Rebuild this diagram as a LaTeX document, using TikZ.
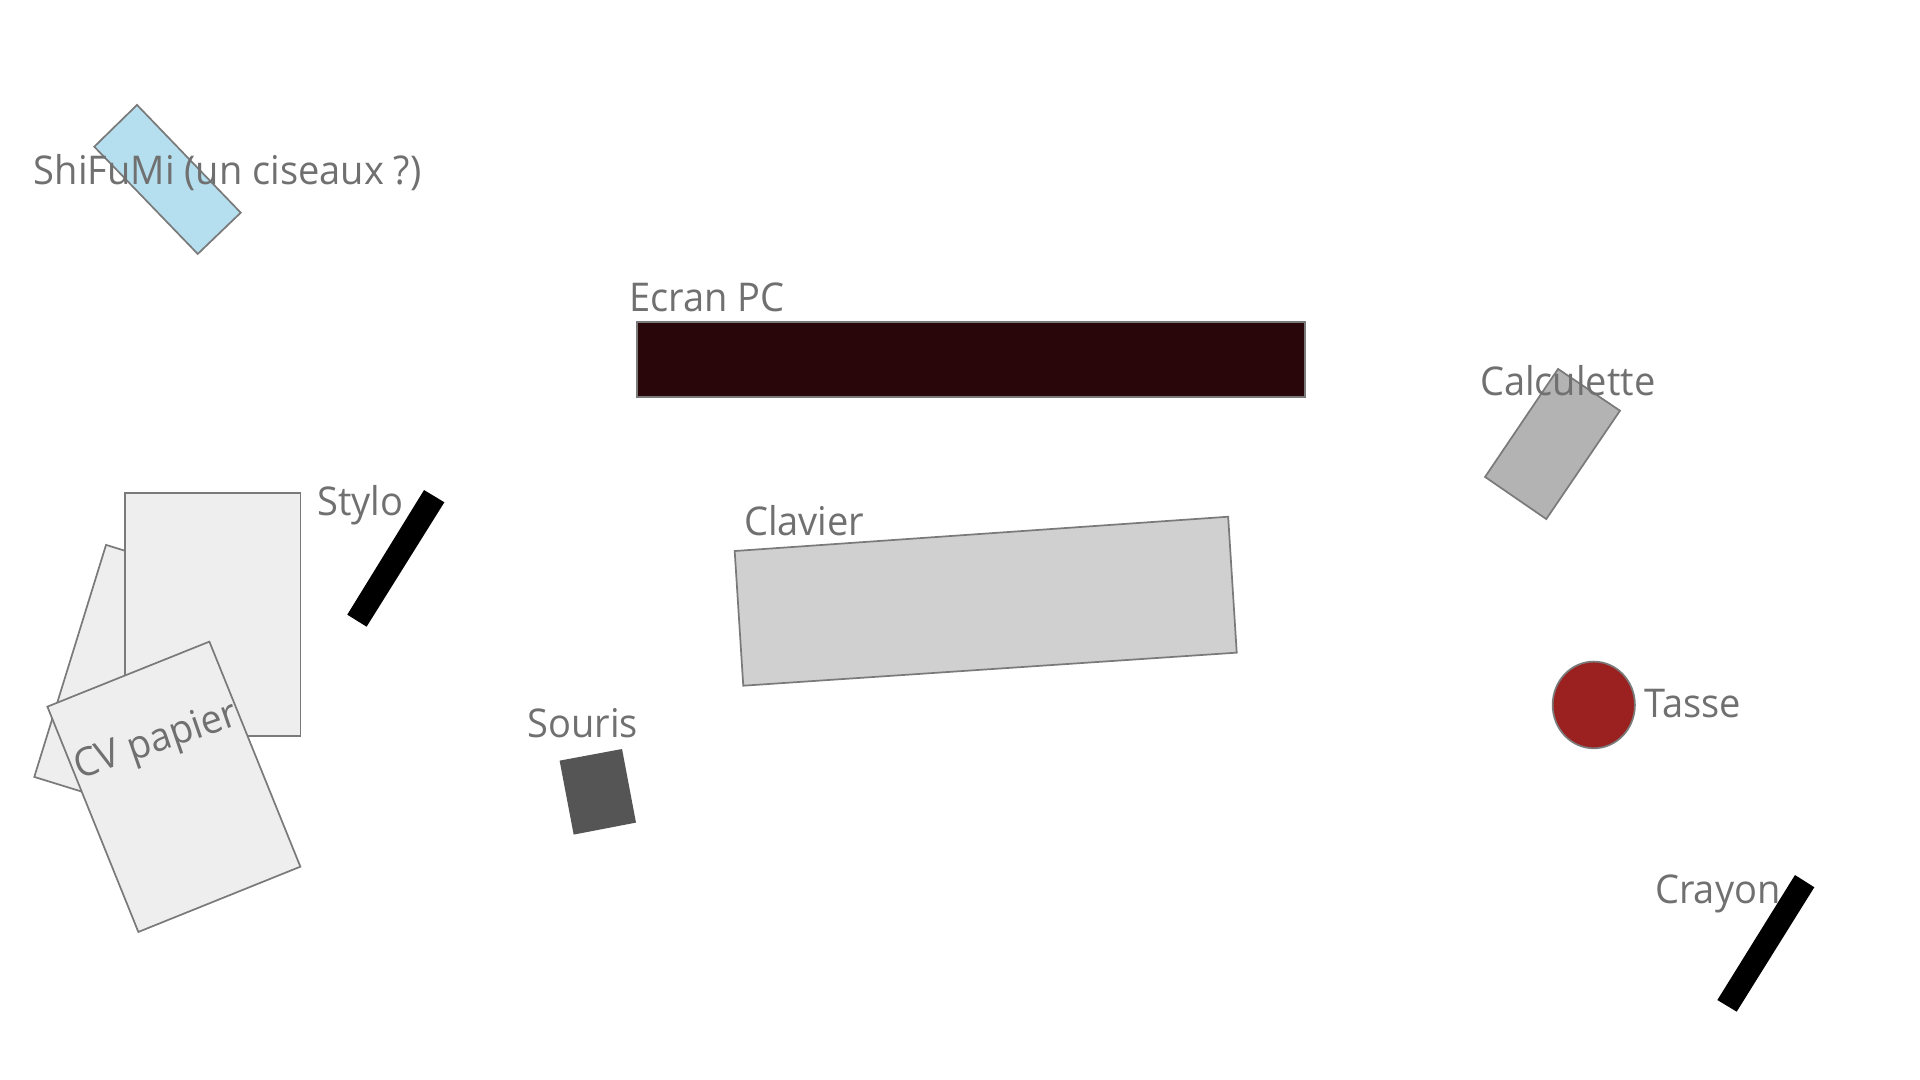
\documentclass[tikz,border=0pt]{standalone}
\usepackage{fontspec}
\setmainfont{Open Sans}[FakeStretch=0.96]
\usepackage{tikz}
\definecolor{Frame}{HTML}{7A7A7A}
\definecolor{Label}{HTML}{707070}
\definecolor{SkyBlue}{HTML}{B5DFEF}
\definecolor{Screen}{HTML}{280609}
\definecolor{CalcGrey}{HTML}{B3B3B3}
\definecolor{KeyGrey}{HTML}{D0D0D0}
\definecolor{Paper}{HTML}{EEEEEE}
\definecolor{Mouse}{HTML}{555555}
\definecolor{Cup}{HTML}{9B2121}

\begin{document}
\begin{tikzpicture}[x=0.01cm, y=-0.01cm,
  objet/.style={draw=Frame, line width=0.4pt},
  etiquette/.style={anchor=base west, inner sep=0pt, text=Label, font=\fontsize{9.2}{11}\selectfont}]
  \useasboundingbox (0,0) rectangle (1568,882);
  % feuilles
  \filldraw[objet, fill=Paper] (86.6,445) -- (223.2,487.2) -- (164.6,676.7) -- (28,634.5) -- cycle;
  \filldraw[objet, fill=Paper] (102.3,402.9) rectangle (245.3,601);
  \filldraw[objet, fill=Paper] (38.7,577.1) -- (171,524) -- (245.3,707.8) -- (113,761.1) -- cycle;
  \node[etiquette, rotate=19] (cv) at (64,637) {CV papier};
  % shifumi
  \filldraw[objet, fill=SkyBlue] (111.9,85.7) -- (196.6,173.7) -- (161.5,207.4) -- (77,119.8) -- cycle;
  \node[etiquette] (shifumi) at (27,151) {ShiFuMi (un ciseaux ?)};
  % ecran et clavier
  \filldraw[objet, fill=Screen] (520,263) rectangle (1066,324);
  \node[etiquette] (ecran) at (513,254) {Ecran PC};
  \filldraw[objet, fill=KeyGrey] (600,450) -- (1003,422) -- (1010,533) -- (607,560) -- cycle;
  \node[etiquette] (clavier) at (607,437) {Clavier};
  % stylo, souris
  \fill (346.3,400.2) -- (362.9,410.2) -- (299.4,511.8) -- (283.6,502) -- cycle;
  \node[etiquette] (stylo) at (258.6,421.4) {Stylo};
  \fill[Mouse] (457,621.2) -- (508,611.7) -- (519.4,671.8) -- (468.5,681.6) -- cycle;
  \node[etiquette] (souris) at (430,602.5) {Souris};
  % droite
  \filldraw[objet, fill=CalcGrey] (1272.4,301.3) -- (1323,335.4) -- (1262.8,423.9) -- (1212.8,389.5) -- cycle;
  \node[etiquette] (calc) at (1208,322.6) {Calculette};
  \filldraw[objet, fill=Cup] (1301.6,575.7) ellipse [x radius=33.6, y radius=35.4];
  \node[etiquette] (tasse) at (1342,585.8) {Tasse};
  \fill (1465.9,714.6) -- (1481.7,724.6) -- (1418.3,826.2) -- (1402.5,816.7) -- cycle;
  \node[etiquette] (crayon) at (1351,737.7) {Crayon};
\end{tikzpicture}
\end{document}
